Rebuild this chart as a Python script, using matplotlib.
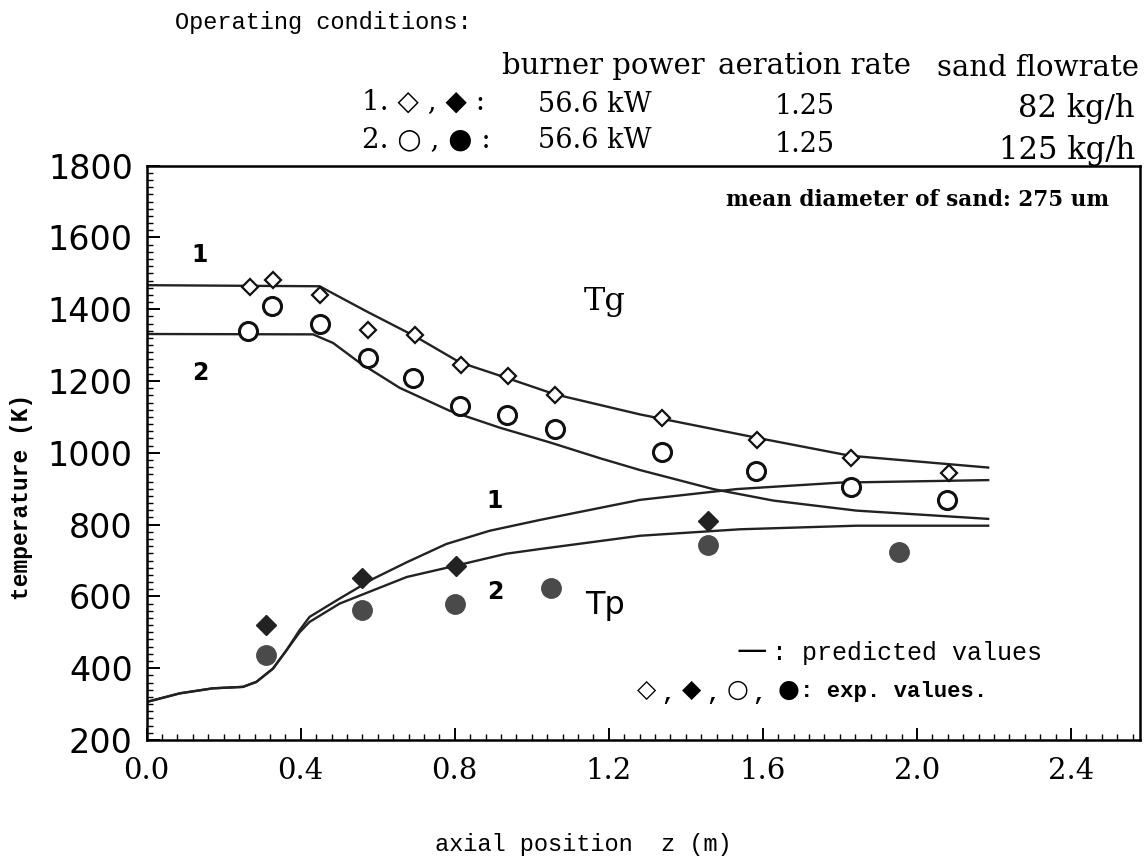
import matplotlib
matplotlib.use("Agg")
import matplotlib.pyplot as plt
from matplotlib.ticker import MultipleLocator

# experimental points, run 1 (82 kg/h) and run 2 (125 kg/h)
tg1_z = [0.268, 0.328, 0.451, 0.575, 0.696, 0.816, 0.938, 1.06, 1.339, 1.584, 1.830, 2.084]
tg1_T = [1461, 1482, 1441, 1341, 1328, 1244, 1214, 1161, 1098, 1035, 985, 944]
tg2_z = [0.263, 0.326, 0.451, 0.575, 0.692, 0.813, 0.936, 1.06, 1.339, 1.582, 1.828, 2.079]
tg2_T = [1339, 1408, 1359, 1263, 1209, 1131, 1106, 1066, 1001, 950, 906, 869]
tp1_z = [0.311, 0.56, 0.804, 1.458]
tp1_T = [519, 652, 686, 811]
tp2_z = [0.311, 0.56, 0.80, 1.051, 1.458, 1.954]
tp2_T = [436, 561, 578, 623, 742, 724]

# predicted curves
tg1_line_z = [0.0, 0.449, 0.571, 0.696, 0.813, 0.934, 1.06, 1.281, 1.584, 1.826, 2.185]
tg1_line_T = [1467, 1464, 1394, 1325, 1252, 1209, 1163, 1107, 1042, 992, 959]
tg2_line_z = [0.0, 0.432, 0.484, 0.553, 0.657, 0.787, 0.917, 1.047, 1.177, 1.281, 1.471, 1.627, 1.843, 2.185]
tg2_line_T = [1331, 1330, 1306, 1251, 1181, 1117, 1070, 1029, 985, 952, 899, 867, 839, 816]
tp1_line_z = [0.0, 0.086, 0.172, 0.25, 0.285, 0.328, 0.363, 0.397, 0.423, 0.501, 0.588, 0.675,
              0.778, 0.891, 1.021, 1.281, 1.532, 1.80, 2.185]
tp1_line_T = [306, 330, 344, 348, 362, 399, 450, 506, 543, 594, 649, 695,
              746, 783, 813, 869, 899, 917, 924]
tp2_line_z = [0.0, 0.086, 0.172, 0.25, 0.285, 0.328, 0.363, 0.397, 0.423, 0.501, 0.588, 0.675,
              0.804, 0.934, 1.021, 1.281, 1.54, 1.843, 2.185]
tp2_line_T = [306, 330, 344, 348, 362, 399, 450, 500, 529, 580, 617, 654,
              686, 719, 732, 769, 787, 797, 797]

xticks = [0.0, 0.4, 0.8, 1.2, 1.6, 2.0, 2.4]
yticks = [200, 400, 600, 800, 1000, 1200, 1400, 1600, 1800]

W, H = 1146, 865
mono = ["Liberation Mono", "DejaVu Sans"]
serif = ["DejaVu Serif", "DejaVu Sans"]


def px(x, y):
    return x / W, 1 - y / H


fig = plt.figure(figsize=(W / 100, H / 100), dpi=100)
ax = fig.add_axes([0.128, 0.1445, 0.867, 0.664])

lw = 1.7
for z, T in [(tg1_line_z, tg1_line_T), (tg2_line_z, tg2_line_T),
             (tp1_line_z, tp1_line_T), (tp2_line_z, tp2_line_T)]:
    ax.plot(z, T, color="#222222", lw=lw)

ax.plot(tg1_z, tg1_T, "D", ms=8, mfc="white", mec="#111111", mew=1.6, ls="none")
ax.plot(tg2_z, tg2_T, "o", ms=13, mfc="white", mec="#111111", mew=2.2, ls="none")
ax.plot(tp1_z, tp1_T, "D", ms=10, mfc="#222222", mec="#222222", ls="none")
ax.plot(tp2_z, tp2_T, "o", ms=14, mfc="#4a4a4a", mec="#4a4a4a", ls="none")

ax.set_xlim(0, 2.58)
ax.set_ylim(200, 1800)
ax.set_xticks(xticks)
ax.set_xticklabels(["%.1f" % v for v in xticks], fontsize=21, family=serif)
ax.set_yticks(yticks)
ax.set_yticklabels([str(v) for v in yticks], fontsize=24)
ax.xaxis.set_minor_locator(MultipleLocator(0.04))
ax.yaxis.set_minor_locator(MultipleLocator(20))
ax.tick_params(which="both", direction="in", top=False, right=False)
ax.tick_params(which="major", length=9, width=1.4)
ax.tick_params(axis="x", which="major", pad=12)
ax.tick_params(axis="y", which="major", pad=10)
ax.tick_params(which="minor", length=4, width=1.0)
for s in ax.spines.values():
    s.set_linewidth(1.8)

fig.text(*px(583, 845), "axial position  z (m)", fontsize=17, family=mono,
         ha="center", va="center")
fig.text(*px(22, 497), "temperature (K)", fontsize=16.5, family=mono, fontweight="bold",
         rotation=90, ha="center", va="center")

# labels inside the plot
ax.text(0.138, 1550, "1", fontsize=17, fontweight="bold", ha="center", va="center")
ax.text(0.138, 1222, "2", fontsize=17, fontweight="bold", ha="center", va="center")
ax.text(1.19, 1422, "Tg", fontsize=23, family=serif, ha="center", va="center")
ax.text(0.904, 867, "1", fontsize=17, fontweight="bold", ha="center", va="center")
ax.text(0.904, 611, "2", fontsize=17, fontweight="bold", ha="center", va="center")
ax.text(1.19, 575, "Tp", fontsize=23, ha="center", va="center")
ax.text(2.50, 1705, "mean diameter of sand: 275 um", fontsize=15.5, family=serif,
        fontweight="bold", ha="right", va="center")

# legend written as text, as in the original
fig.text(*px(737, 651), "\u2014", fontsize=22, family="DejaVu Sans", ha="left", va="center")
fig.text(*px(772, 653), ": predicted values", fontsize=18, family=mono, ha="left", va="center")
sym_x = [647, 692, 738, 789]
syms = ["\u25c7", "\u25c6", "\u25cb", "\u25cf"]
for i, (sx, s) in enumerate(zip(sym_x, syms)):
    fig.text(*px(sx, 690), s, fontsize=18, family="DejaVu Sans", ha="center", va="center")
    if i < 3:
        fig.text(*px(sx + 21, 694), ",", fontsize=16, family=mono, fontweight="bold",
                 ha="center", va="center")
fig.text(*px(800, 692), ": exp. values.", fontsize=16, family=mono, fontweight="bold",
         ha="left", va="center")

# operating conditions header
fig.text(*px(175, 22), "Operating conditions:", fontsize=17, family=mono, ha="left", va="center")
fig.text(*px(603, 66), "burner power", fontsize=21, family=serif, ha="center", va="center")
fig.text(*px(815, 66), "aeration rate", fontsize=21, family=serif, ha="center", va="center")
fig.text(*px(1038, 68), "sand flowrate", fontsize=21, family=serif, ha="center", va="center")
fig.text(*px(362, 102), "1. \u25c7 , \u25c6 :", fontsize=20, family=serif, ha="left", va="center")
fig.text(*px(362, 140), "2. \u25cb , \u25cf :", fontsize=20, family=serif, ha="left", va="center")
fig.text(*px(595, 104), "56.6 kW", fontsize=19.5, family=serif, ha="center", va="center")
fig.text(*px(595, 141), "56.6 kW", fontsize=19.5, family=serif, ha="center", va="center")
fig.text(*px(805, 106), "1.25", fontsize=19.5, family=serif, ha="center", va="center")
fig.text(*px(805, 145), "1.25", fontsize=19.5, family=serif, ha="center", va="center")
fig.text(*px(1135, 108), "82 kg/h", fontsize=22, family=serif, ha="right", va="center")
fig.text(*px(1135, 150), "125 kg/h", fontsize=22, family=serif, ha="right", va="center")

fig.savefig("out.png", dpi=100)
